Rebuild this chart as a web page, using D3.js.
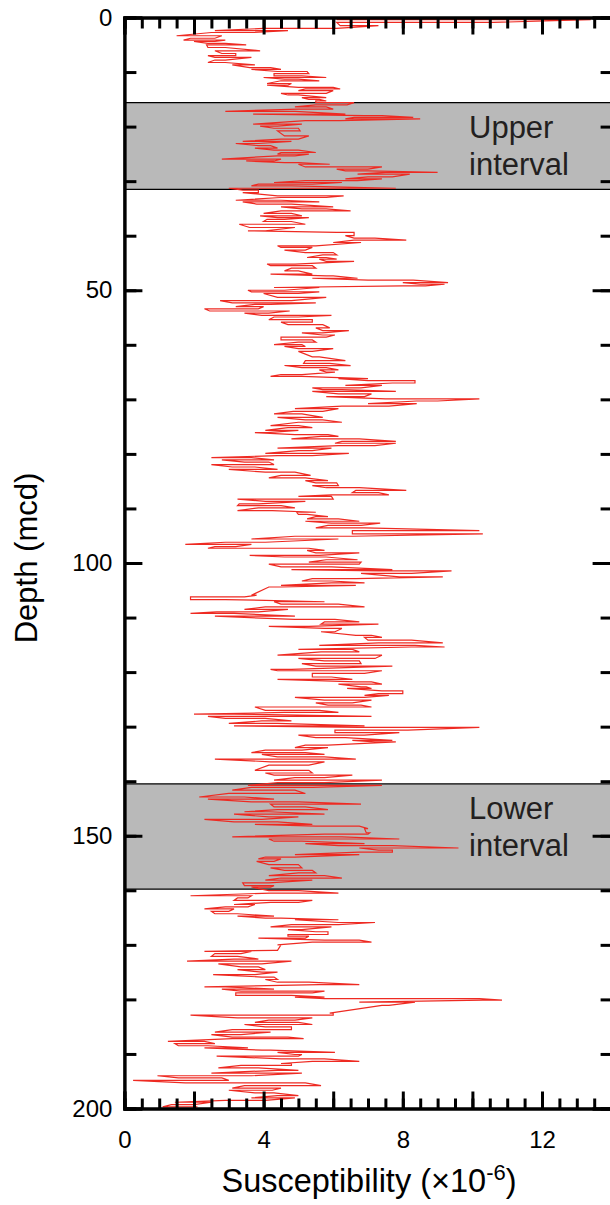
<!DOCTYPE html>
<html>
<head>
<meta charset="utf-8">
<script src="https://cdn.jsdelivr.net/npm/d3@7"></script>
<style>
  body { margin: 0; background: #fff; }
  text { font-family: "Liberation Sans", Arial, Helvetica, sans-serif; }
</style>
</head>
<body>
<svg id="chart" width="610" height="1205"></svg>
<script>
// each stroke: depth (mcd) and the low / high susceptibility reached there (x10^-6)
var depthM = [
  // 0 - 50
  0.1, 0.4, 0.9, 1.5, 2.0, 2.4, 2.75, 3.35, 3.8, 4.15,
  4.4, 4.75, 5.0, 5.5, 6.1, 6.6, 7.0, 7.3, 7.8, 8.25,
  8.7, 9.2, 9.5, 9.9, 10.3, 10.7, 11.0, 11.3, 11.6, 12.1,
  12.4, 12.8, 13.1, 13.4, 13.9, 14.2, 14.7, 15.0, 15.3, 15.6,
  16.0, 16.4, 16.8, 17.2, 17.7, 18.0, 18.3, 18.6, 18.9, 19.55,
  19.9, 20.3, 20.8, 21.7, 22.3, 22.7, 23.1, 23.5, 23.95, 24.3,
  24.75, 25.05, 25.35, 25.95, 26.3, 26.6, 26.9, 27.4, 27.8, 28.1,
  28.4, 28.7, 29.2, 29.6, 29.9, 30.25, 30.55, 30.85, 31.3, 31.65,
  32.1, 32.7, 33.0, 33.5, 33.8, 34.2, 34.7, 35.1, 35.45, 35.9,
  36.35, 36.7, 37.0, 37.4, 37.9, 38.5, 39.1, 39.4, 40.0, 40.45,
  40.8, 41.25, 41.85, 42.15, 42.65, 43.1, 43.5, 44.0, 44.3, 44.7,
  45.2, 45.5, 45.95, 46.45, 47.05, 47.35, 47.8, 48.15, 48.6, 48.9,
  49.2, 49.5, 50.0,
  // 50 - 100
  50.3, 50.6, 51.3, 51.9, 52.3, 52.6, 53.0, 53.4, 53.8, 54.2,
  54.6, 54.9, 55.4, 55.85, 56.3, 56.9, 57.4, 57.8, 58.2, 58.6,
  59.1, 59.5, 59.95, 60.3, 60.7, 61.2, 62.2, 62.9, 63.4, 63.8,
  64.2, 64.6, 65.0, 65.45, 65.8, 66.2, 66.55, 67.0, 67.45, 67.9,
  68.2, 68.55, 69.0, 69.5, 69.9, 70.3, 70.8, 71.25, 71.7, 72.2,
  72.65, 73.3, 73.75, 74.2, 74.8, 75.2, 75.7, 76.1, 76.45, 76.8,
  77.25, 77.7, 78.05, 78.5, 78.95, 79.4, 79.9, 80.3, 80.7, 81.1,
  81.5, 81.95, 82.4, 82.85, 83.35, 83.95, 84.4, 84.9, 85.3, 85.8,
  86.2, 86.7, 87.1, 87.5, 87.8, 88.3, 88.7, 89.15, 89.5, 89.9,
  90.4, 90.7, 91.1, 91.5, 91.9, 92.35, 92.7, 93.1, 93.55, 94.05,
  94.65, 95.1, 95.6, 96.2, 96.6, 97.0, 97.3, 97.7, 98.15, 98.6,
  98.9, 99.4, 99.85, 100.2,
  // 100 - 150
  100.7, 101.2, 101.45, 101.9, 102.55, 102.85, 103.3, 103.65, 104.1, 104.4,
  105.9, 106.2, 106.7, 107.1, 107.55, 108.05, 108.5, 108.95, 109.25, 109.75,
  110.35, 110.8, 111.2, 111.6, 112.0, 112.6, 113.25, 113.65, 114.15, 114.65,
  115.1, 115.4, 115.85, 116.3, 116.9, 117.5, 117.95, 118.45, 118.9, 119.5,
  119.75, 120.25, 120.9, 121.35, 121.8, 122.2, 122.7, 123.0, 123.45, 123.95,
  124.25, 124.65, 125.15, 125.65, 126.05, 126.4, 127.0, 127.4, 127.7, 128.1,
  128.5, 128.95, 129.4, 129.85, 130.15, 130.65, 131.1, 131.55, 132.0, 132.5,
  132.8, 133.4, 133.85, 134.3, 134.75, 135.1, 135.55, 135.95, 136.45, 137.05,
  138.0, 138.5, 138.9, 139.35, 139.8, 140.25, 140.75, 141.15, 141.65, 142.25,
  142.9, 143.3, 143.8, 144.2, 144.7, 145.2, 145.6, 146.05, 146.55, 147.0,
  147.45, 147.9, 148.25, 148.7, 149.45, 149.7, 150.2,
  // 150 - 200
  150.6, 151.0, 151.45, 151.8, 152.25, 152.65, 153.0, 153.45, 153.9, 154.25,
  154.7, 155.3, 155.9, 156.35, 156.8, 157.3, 157.75, 158.15, 158.65, 159.15,
  159.4, 160.05, 160.5, 161.0, 161.4, 161.85, 162.2, 162.6, 163.05, 163.4,
  163.85, 164.3, 164.75, 165.1, 165.4, 165.9, 166.3, 166.7, 167.2, 167.6,
  168.1, 168.4, 168.75, 169.15, 169.5, 170.0, 171.0, 171.2, 171.6, 172.1,
  172.6, 173.0, 173.5, 174.05, 174.55, 175.0, 175.45, 175.9, 176.35, 176.85,
  177.3, 177.7, 178.1, 178.5, 178.8, 179.25, 179.6, 179.85, 180.15, 180.5,
  181.1, 182.5, 182.9, 183.4, 183.8, 184.2, 184.6, 185.05, 185.55, 186.0,
  186.45, 186.9, 187.2, 187.7, 188.1, 188.5, 188.9, 189.3, 189.7, 190.1,
  190.4, 190.9, 191.35, 191.75, 192.1, 192.55, 193.0, 193.5, 194.0, 194.4,
  194.85, 195.3, 195.8, 196.25, 196.65, 197.15, 197.65, 198.05, 198.5, 198.85,
  199.3, 199.7
];

var kLow = [
  9.0, 6.1, 6.1, 6.2, 4.0, 2.6, 2.5, 1.5, 1.9, 1.7,
  2.0, 2.4, 2.36, 2.4, 2.6, 2.8, 2.4, 2.6, 2.6, 2.4,
  3.1, 3.6, 3.65, 4.4, 4.3, 4.3, 4.0, 4.6, 4.5, 4.1,
  4.1, 5.0, 5.2, 5.0, 4.5, 4.7, 5.1, 5.3, 5.5, 5.5,
  5.5, 4.9, 5.0, 2.9, 3.7, 6.9, 6.6, 6.35, 5.2, 3.7,
  3.9, 4.3, 4.4, 4.6, 4.5, 3.4, 3.2, 3.85, 3.75, 4.3,
  4.5, 4.4, 4.4, 2.8, 3.5, 4.6, 5.0, 5.2, 6.1, 6.35,
  7.5, 6.7, 7.0, 6.35, 5.2, 4.3, 3.85, 3.65, 3.0, 3.4,
  3.4, 4.4, 4.5, 3.2, 3.4, 3.8, 4.5, 5.1, 4.5, 4.0,
  3.9, 4.4, 4.1, 4.0, 3.3, 3.6, 3.55, 6.1, 6.35, 6.6,
  6.6, 6.0, 4.4, 4.5, 4.6, 5.2, 5.7, 5.25, 5.6, 5.8,
  4.1, 4.2, 4.8, 4.6, 4.2, 5.8, 5.4, 7.0, 8.0, 8.5,
  8.0, 4.3, 3.55,

  3.65, 4.0, 4.4, 2.75, 3.1, 3.75, 3.2, 2.3, 2.45, 3.45,
  3.95, 4.3, 4.15, 4.5, 4.7, 5.5, 5.7, 5.1, 5.7, 4.5,
  4.5, 5.0, 4.3, 4.6, 5.0, 5.0, 5.4, 5.2, 5.15, 4.6,
  5.1, 5.6, 5.8, 4.5, 4.2, 6.15, 7.0, 7.7, 6.35, 5.4,
  5.7, 5.4, 6.15, 5.8, 7.5, 8.4, 7.0, 6.25, 4.9, 4.85,
  4.3, 4.4, 5.2, 5.0, 4.2, 4.7, 4.05, 3.75, 4.9, 5.65,
  4.8, 6.25, 6.05, 6.15, 4.4, 5.0, 4.05, 4.4, 2.5, 2.8,
  3.45, 2.5, 3.1, 3.0, 4.05, 4.5, 4.15, 5.2, 5.5, 5.4,
  5.8, 6.65, 6.55, 5.95, 5.0, 3.25, 4.05, 3.3, 3.25, 3.85,
  3.25, 4.95, 5.0, 5.5, 5.25, 5.2, 5.95, 5.85, 5.5, 6.55,
  6.55, 4.9, 3.65, 2.9, 1.75, 2.6, 2.4, 5.25, 5.5, 3.6,
  4.6, 5.8, 5.3, 4.15,

  4.5, 4.8, 7.3, 6.8, 7.9, 5.4, 5.1, 5.95, 4.5, 4.15,
  3.65, 1.9, 1.9, 4.3, 4.5, 4.05, 3.45, 2.65, 1.9, 2.6,
  4.9, 5.75, 5.65, 4.15, 5.75, 5.65, 6.65, 6.9, 7.0, 7.3,
  5.6, 8.25, 5.0, 5.65, 4.4, 5.0, 5.75, 5.1, 5.5, 4.2,
  4.4, 5.4, 5.4, 4.4, 6.65, 6.15, 6.8, 6.4, 7.4, 7.3,
  6.9, 4.9, 5.75, 5.5, 5.85, 3.75, 4.05, 4.6, 2.0, 2.4,
  2.9, 3.95, 3.0, 3.15, 6.75, 6.05, 6.05, 5.0, 5.5, 6.55,
  7.2, 5.2, 4.9, 4.05, 3.65, 3.95, 4.4, 2.6, 4.2, 4.15,
  3.75, 4.05, 4.3, 4.9, 4.3, 4.4, 3.55, 3.65, 3.1, 3.0,
  2.15, 2.4, 3.65, 4.2, 4.3, 4.4, 3.45, 3.15, 4.15, 2.3,
  3.15, 3.75, 5.5, 6.9, 6.95, 5.75, 3.1,

  4.15, 4.3, 5.2, 6.15, 6.75, 7.3, 6.75, 4.9, 4.05, 3.85,
  3.8, 4.15, 4.2, 4.6, 5.0, 4.15, 4.5, 4.05, 3.4, 3.45,
  3.65, 4.15, 4.2, 1.9, 3.25, 3.15, 4.2, 3.15, 2.9, 2.3,
  2.5, 2.6, 3.25, 4.05, 4.9, 6.15, 4.8, 4.2, 4.7, 5.5,
  4.7, 4.7, 3.85, 5.75, 5.4, 4.4, 4.3, 2.3, 2.6, 2.5,
  3.15, 1.8, 2.7, 3.35, 3.25, 3.95, 2.55, 3.95, 4.05, 4.4,
  5.6, 2.3, 2.8, 3.35, 3.2, 3.2, 4.9, 5.75, 10.3, 6.75,
  7.4, 5.9, 1.9, 3.25, 4.15, 3.75, 3.45, 4.05, 3.1, 2.6,
  2.5, 3.1, 3.1, 1.25, 1.45, 1.55, 2.3, 3.95, 4.4, 4.9,
  2.65, 4.5, 5.4, 4.5, 3.35, 2.7, 4.4, 2.5, 0.95, 1.55,
  0.25, 1.75, 3.45, 3.1, 3.0, 3.75, 4.4, 3.65, 2.9, 1.45,
  1.35, 1.1
];

var kHigh = [
  13.8, 13.4, 10.6, 7.3, 6.1, 4.7, 3.7, 2.8, 2.6, 2.9,
  2.6, 2.9, 3.5, 2.9, 3.9, 3.2, 3.2, 3.65, 2.9, 2.9,
  3.75, 4.2, 4.5, 5.25, 5.3, 5.1, 5.8, 5.0, 5.6, 4.8,
  4.7, 6.0, 6.2, 6.0, 5.8, 5.0, 5.8, 5.6, 5.8, 6.6,
  6.4, 5.8, 6.0, 4.9, 6.35, 7.4, 8.3, 8.5, 6.2, 5.1,
  4.4, 5.0, 5.05, 5.3, 5.0, 4.8, 3.85, 4.2, 4.4, 5.0,
  5.5, 5.3, 4.9, 4.5, 4.3, 5.0, 5.9, 7.4, 7.0, 7.0,
  9.0, 8.2, 7.7, 7.4, 6.7, 6.25, 5.4, 4.8, 7.8, 3.85,
  3.85, 6.3, 5.8, 4.5, 5.6, 4.8, 6.0, 5.8, 6.5, 4.8,
  5.1, 5.3, 4.6, 4.8, 5.2, 4.9, 4.05, 6.6, 6.6, 7.2,
  8.1, 6.8, 5.5, 5.4, 5.2, 6.0, 6.1, 5.8, 6.1, 6.6,
  4.9, 5.4, 5.5, 5.0, 5.4, 6.0, 6.7, 8.3, 9.3, 9.2,
  8.65, 5.6, 4.6,

  5.6, 5.0, 5.8, 4.8, 5.5, 4.2, 4.0, 3.85, 4.75, 4.15,
  5.95, 5.0, 5.4, 5.4, 5.7, 5.9, 6.45, 5.7, 6.05, 5.8,
  5.4, 5.5, 5.1, 5.2, 6.0, 5.4, 5.6, 6.35, 5.9, 6.5,
  5.8, 6.15, 6.05, 5.1, 5.1, 7.0, 8.35, 8.35, 7.4, 6.8,
  6.25, 7.8, 7.1, 6.9, 10.2, 9.0, 8.4, 7.6, 6.15, 5.7,
  5.1, 5.7, 5.7, 6.25, 5.0, 5.4, 5.0, 4.1, 5.85, 6.15,
  6.75, 7.8, 7.8, 7.2, 5.95, 5.4, 6.45, 5.4, 3.65, 4.3,
  4.15, 4.3, 3.75, 4.4, 4.9, 5.35, 5.2, 5.85, 6.1, 6.15,
  6.75, 8.1, 7.3, 7.6, 5.95, 6.0, 5.2, 3.85, 4.5, 4.9,
  4.25, 5.5, 5.25, 5.85, 6.15, 6.75, 7.35, 6.8, 6.9, 10.2,
  10.3, 6.55, 6.15, 4.05, 3.65, 3.2, 5.3, 5.75, 6.75, 5.6,
  5.8, 6.7, 6.8, 6.75,

  5.95, 7.7, 9.4, 8.25, 9.15, 6.65, 5.95, 6.9, 6.65, 4.5,
  3.8, 3.45, 2.9, 5.75, 6.15, 6.9, 4.7, 3.85, 3.15, 4.9,
  6.05, 6.75, 7.3, 5.3, 6.25, 6.05, 7.1, 7.4, 8.25, 9.15,
  8.35, 9.2, 6.55, 6.75, 7.4, 7.2, 6.75, 6.8, 7.7, 4.8,
  7.4, 6.9, 5.95, 6.55, 7.1, 7.4, 6.95, 7.1, 8.0, 8.0,
  7.6, 6.9, 7.1, 6.55, 6.8, 7.1, 5.6, 6.15, 3.15, 7.1,
  4.05, 4.8, 4.4, 6.9, 10.2, 8.15, 7.9, 6.9, 6.35, 7.7,
  7.8, 5.85, 5.85, 5.1, 5.2, 5.75, 5.75, 6.65, 5.75, 5.3,
  5.3, 5.4, 6.55, 5.75, 7.4, 5.75, 7.4, 5.4, 4.9, 5.2,
  3.45, 4.3, 5.0, 6.8, 5.2, 5.85, 4.15, 5.75, 5.0, 3.95,
  4.4, 5.4, 6.75, 7.0, 7.05, 7.0, 6.25,

  7.9, 5.1, 6.9, 7.7, 9.6, 7.7, 7.7, 6.75, 4.9, 4.5,
  4.3, 5.0, 5.1, 5.4, 5.5, 5.75, 6.25, 5.4, 4.15, 4.3,
  4.2, 5.0, 6.15, 3.65, 3.55, 5.4, 5.0, 3.75, 3.55, 3.15,
  3.0, 3.25, 4.3, 4.5, 6.15, 7.2, 6.15, 5.95, 5.1, 5.85,
  5.85, 5.3, 5.2, 6.75, 7.1, 4.5, 4.4, 3.65, 3.35, 3.25,
  3.85, 4.8, 3.95, 3.85, 4.05, 4.4, 3.75, 4.3, 4.4, 5.3,
  6.75, 2.9, 4.3, 5.75, 5.4, 4.8, 5.75, 10.2, 10.85, 8.35,
  7.6, 6.0, 6.0, 5.4, 4.9, 5.0, 5.4, 4.8, 4.8, 4.2,
  3.35, 4.7, 5.15, 2.3, 2.6, 2.4, 3.55, 4.2, 6.05, 5.1,
  5.0, 5.75, 6.75, 4.8, 4.8, 3.85, 5.0, 5.1, 3.65, 2.8,
  3.0, 5.2, 5.65, 4.5, 4.25, 4.3, 5.0, 4.9, 4.05, 2.5,
  2.0, 2.1
];

var intervals = [
  {name: ["Upper", "interval"], top: 15.6, bottom: 31.5},
  {name: ["Lower", "interval"], top: 140.5, bottom: 159.8}
];

var xMajor = [0, 4, 8, 12];
var yMajor = [0, 50, 100, 150, 200];

var svg = d3.select("#chart");

var x = d3.scaleLinear().domain([0, 14]).range([124.4, 611.6]);
var y = d3.scaleLinear().domain([0, 200]).range([17.5, 1108.5]);

// shaded intervals
var bands = svg.append("g");
bands.selectAll("rect")
  .data(intervals)
  .join("rect")
    .attr("x", x(0))
    .attr("width", x(14) - x(0))
    .attr("y", d => y(d.top))
    .attr("height", d => y(d.bottom) - y(d.top))
    .attr("fill", "#b9b9b9");
intervals.forEach(function(d) {
  [d.top, d.bottom].forEach(function(v) {
    bands.append("line")
      .attr("x1", x(0)).attr("x2", x(14))
      .attr("y1", y(v)).attr("y2", y(v))
      .attr("stroke", "black").attr("stroke-width", 1.2);
  });
});

// zig-zag trace: every stroke goes low->high or high->low alternately
var pts = [];
var n = Math.min(depthM.length, kLow.length, kHigh.length);
for (var i = 0; i < n; i++) {
  if (i % 2 == 0) {
    pts.push([kHigh[i], depthM[i]]);
    pts.push([kLow[i], depthM[i]]);
  } else {
    pts.push([kLow[i], depthM[i]]);
    pts.push([kHigh[i], depthM[i]]);
  }
}
pts.unshift([13.9, 0]);

svg.append("path")
  .datum(pts)
  .attr("fill", "none")
  .attr("stroke", "#ee2a22")
  .attr("stroke-width", 1.2)
  .attr("stroke-linejoin", "miter")
  .attr("d", d3.line().x(d => x(d[0])).y(d => y(d[1])));

// band labels
bands.selectAll("text.lab")
  .data(intervals)
  .join("text")
    .attr("class", "lab")
    .attr("x", 469)
    .attr("y", d => y(d.top) + 35)
    .style("font-size", "31px")
    .attr("fill", "#231f20")
    .selectAll("tspan")
    .data(d => d.name)
    .join("tspan")
      .attr("x", 469)
      .attr("dy", (d, i) => i == 0 ? 0 : 37.5)
      .text(d => d);

// axes with inward ticks
function styleAxis(g) {
  g.select(".domain").attr("stroke-width", 3);
  g.selectAll(".tick line").attr("stroke-width", 3);
  g.selectAll(".tick text").style("font-size", "24px").attr("fill", "black");
}

svg.append("g")
  .attr("transform", "translate(" + x(0) + ",0)")
  .call(d3.axisLeft(y).tickValues(d3.range(0, 201, 10)).tickSize(-12).tickFormat(""))
  .call(styleAxis);
svg.append("g")
  .attr("transform", "translate(" + x(0) + ",0)")
  .call(d3.axisLeft(y).tickValues(yMajor).tickSize(-18).tickPadding(12))
  .call(styleAxis);

svg.append("g")
  .attr("transform", "translate(" + x(14) + ",0)")
  .call(d3.axisRight(y).tickValues(d3.range(0, 201, 10)).tickSize(-11).tickFormat(""))
  .call(styleAxis);
svg.append("g")
  .attr("transform", "translate(" + x(14) + ",0)")
  .call(d3.axisRight(y).tickValues(yMajor).tickSize(-19).tickFormat(""))
  .call(styleAxis);

svg.append("g")
  .attr("transform", "translate(0," + y(200) + ")")
  .call(d3.axisBottom(x).tickValues(d3.range(0, 14.01, 0.5)).tickSize(-10).tickFormat(""))
  .call(styleAxis);
svg.append("g")
  .attr("transform", "translate(0," + y(200) + ")")
  .call(d3.axisBottom(x).tickValues(d3.range(0, 14.01, 2)).tickSize(-17).tickFormat(""))
  .call(styleAxis);
svg.append("g")
  .attr("transform", "translate(0," + y(200) + ")")
  .call(d3.axisBottom(x).tickValues(xMajor).tickSize(0).tickPadding(22))
  .call(styleAxis)
  .call(g => g.select(".domain").remove());

svg.append("g")
  .attr("transform", "translate(0," + y(0) + ")")
  .call(d3.axisTop(x).tickValues(d3.range(0, 14.01, 0.5)).tickSize(-11).tickFormat(""))
  .call(styleAxis);
svg.append("g")
  .attr("transform", "translate(0," + y(0) + ")")
  .call(d3.axisTop(x).tickValues(d3.range(0, 14.01, 2)).tickSize(-17).tickFormat(""))
  .call(styleAxis);

// axis titles
svg.append("text")
  .attr("transform", "translate(37," + 558 + ") rotate(-90)")
  .attr("text-anchor", "middle")
  .style("font-size", "31px")
  .text("Depth (mcd)");

var xt = svg.append("text")
  .attr("x", 369)
  .attr("y", 1192)
  .attr("text-anchor", "middle")
  .style("font-size", "32.5px");
xt.append("tspan").text("Susceptibility (\u00d710");
xt.append("tspan").attr("dy", -12).style("font-size", "22px").text("-6");
xt.append("tspan").attr("dy", 12).text(")");
</script>
</body>
</html>
